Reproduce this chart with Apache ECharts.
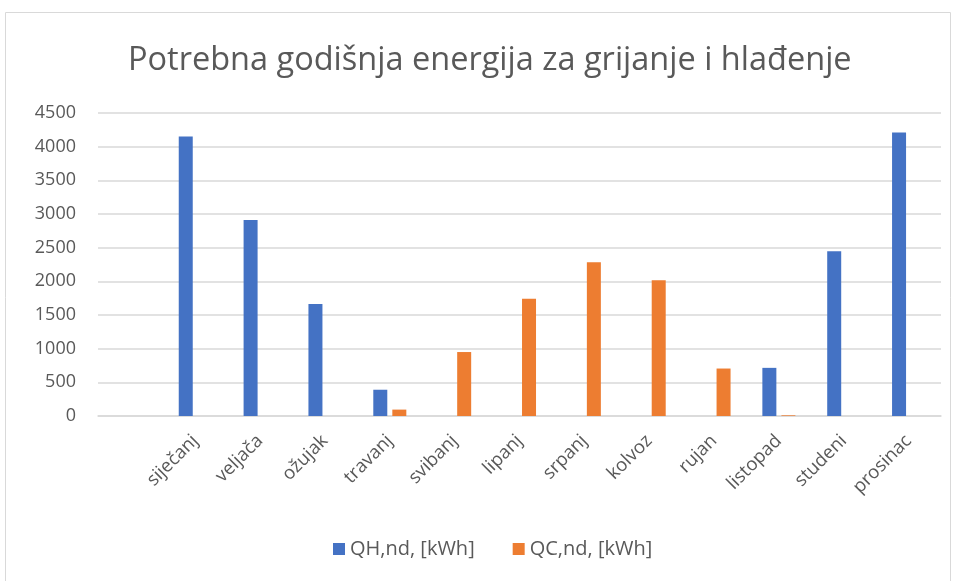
<!DOCTYPE html>
<html>
<head>
<meta charset="utf-8">
<script src="https://cdn.jsdelivr.net/npm/echarts@6/dist/echarts.min.js"></script>
<style>
  html, body { margin: 0; padding: 0; background: #fff; }
  #chart { width: 957px; height: 581px; }
</style>
</head>
<body>
<div id="chart"></div>
<script>
// first slot is an empty category, as in the original sheet
const months = ["", "siječanj", "veljača", "ožujak", "travanj", "svibanj", "lipanj",
  "srpanj", "kolvoz", "rujan", "listopad", "studeni", "prosinac"];
const heating = [null, 4150, 2910, 1665, 390, 0, 0, 0, 0, 0, 715, 2445, 4210];
const cooling = [null, 0, 0, 0, 95, 950, 1740, 2285, 2015, 705, 10, 0, 0];
const seriesNames = ["QH,nd, [kWh]", "QC,nd, [kWh]"];

const textColor = "#595959";
const font = "Open Sans";

const chart = echarts.init(document.getElementById("chart"));
chart.setOption({
  animation: false,
  graphic: [{
    type: "rect",
    shape: { x: 5.5, y: 12.5, width: 945, height: 580 },
    style: { fill: "none", stroke: "#d9d9d9", lineWidth: 1 },
    silent: true
  }],
  title: {
    text: "Potrebna godišnja energija za grijanje i hlađenje",
    left: 123,
    top: 39,
    textStyle: { color: textColor, fontFamily: font, fontSize: 32.5, fontWeight: "normal" }
  },
  legend: {
    bottom: 17,
    left: 328,
    itemWidth: 12,
    itemHeight: 12,
    itemGap: 38,
    icon: "rect",
    textStyle: { color: textColor, fontFamily: font, fontSize: 20 },
    data: seriesNames
  },
  grid: { left: 98, right: 16, top: 113, bottom: 165 },
  xAxis: {
    type: "category",
    data: months,
    axisLine: { lineStyle: { color: "#d9d9d9", width: 1.5 } },
    axisTick: { show: false },
    axisLabel: {
      interval: 0,
      rotate: 45,
      margin: 22,
      color: textColor,
      fontFamily: font,
      fontSize: 18.5
    }
  },
  yAxis: {
    type: "value",
    min: 0,
    max: 4500,
    interval: 500,
    axisLine: { show: false },
    axisTick: { show: false },
    axisLabel: {
      color: textColor, fontFamily: font, fontSize: 18, margin: 22,
      formatter: function (v) { return String(v); }
    },
    splitLine: { lineStyle: { color: "#d9d9d9", width: 1.5 } }
  },
  series: [
    {
      name: seriesNames[0],
      type: "bar",
      data: heating,
      barWidth: 14,
      barGap: "36%",
      itemStyle: { color: "#4472C4" }
    },
    {
      name: seriesNames[1],
      type: "bar",
      data: cooling,
      barWidth: 14,
      itemStyle: { color: "#ED7D31" }
    }
  ]
});
</script>
</body>
</html>
